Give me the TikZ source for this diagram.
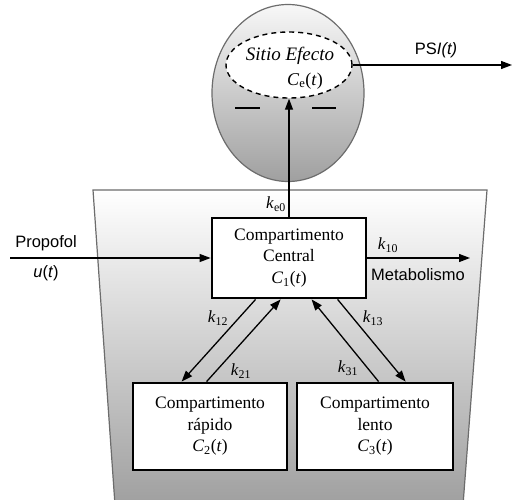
\documentclass[tikz,border=0pt]{standalone}
\usepackage{fontspec}
\setmainfont{Liberation Serif}
\setsansfont{Liberation Sans}
\usetikzlibrary{shapes.geometric,arrows.meta,calc}
\newcommand{\cvar}[1]{\textit{C}\textsubscript{#1}(\textit{t})}
\newcommand{\kvar}[1]{\textit{k}\textsubscript{#1}}
\begin{document}
\begin{tikzpicture}[x=1pt,y=-1pt,
  arr/.style={line width=1.3pt,-{Triangle[length=11pt,width=8pt]}},
  box/.style={draw,line width=2.8pt,fill=white,align=center,font=\fontsize{17.5}{21.5}\selectfont,inner sep=0pt},
  klab/.style={font=\fontsize{17}{19}\selectfont,inner sep=1pt},
  slab/.style={font=\sffamily\fontsize{16.5}{19}\selectfont,inner sep=1pt},
  outl/.style={draw=gray!85!black,line width=1.2pt}]
\useasboundingbox (0,0) rectangle (514,500);
% container trapezoid
\shade[top color=white,bottom color=gray!75] (93,190) -- (487,190) -- (463,505) -- (115,505) -- cycle;
\draw[outl] (115,505) -- (93,190) -- (487,190) -- (463,505);
% effect-site sphere
\node[ellipse,outl,top color=gray!6,bottom color=gray!75,minimum width=152pt,minimum height=177pt,inner sep=0pt] (sph) at (288,93) {};
\node[ellipse,draw,line width=1.4pt,dash pattern=on 5pt off 4pt,fill=white,minimum width=126pt,minimum height=66pt,inner sep=0pt] (ce) at (289,65) {};
\node[font=\itshape\fontsize{19}{21}\selectfont] (st) at (290,56) {Sitio Efecto};
\node[font=\fontsize{18}{21}\selectfont] (cet) at (305,81) {\cvar{e}};
\draw[line width=1.4pt] (235,108) -- (260,108);
\draw[line width=1.4pt] (312,108) -- (336,108);
% compartments
\node[box,minimum width=154pt,minimum height=80pt] (c1) at (289,258) {Compartimento\\Central\\\cvar{1}};
\node[box,minimum width=154pt,minimum height=87pt] (c2) at (210,426.5) {Compartimento\\rápido\\\cvar{2}};
\node[box,minimum width=156pt,minimum height=87pt] (c3) at (375,426.5) {Compartimento\\lento\\\cvar{3}};
% input
\coordinate (pin) at (10,258);
\draw[arr] (pin) -- (c1.west);
\node[slab] (prop) at (46,243) {Propofol};
\node[slab] (ut) at (46,273) {\textit{u}(\textit{t})};
% metabolism
\coordinate (met) at (470,258);
\draw[arr] (c1.east) -- (met);
\node[klab] (k10) at (388,245) {\kvar{10}};
\node[slab] (metl) at (418,275) {Metabolismo};
% to effect site
\draw[arr] (c1.north) -- (ce.south);
\node[klab] (ke0) at (276,204) {\kvar{e0}};
% output
\coordinate (psi) at (512,65);
\draw[arr] (ce.east) -- (psi);
\node[slab] (psil) at (436,50) {PS\textit{I(t)}};
% exchanges
\draw[arr] ([xshift=45pt]c1.south west) -- ([xshift=50pt]c2.north west);
\draw[arr] ([xshift=75pt]c2.north west) -- ([xshift=70pt]c1.south west);
\draw[arr] ([xshift=83pt]c3.north west) -- ([xshift=101pt]c1.south west);
\draw[arr] ([xshift=127pt]c1.south west) -- ([xshift=110pt]c3.north west);
\node[klab] (k12) at (218,318) {\kvar{12}};
\node[klab] (k21) at (241,371) {\kvar{21}};
\node[klab] (k13) at (373,318) {\kvar{13}};
\node[klab] (k31) at (348,368) {\kvar{31}};
\end{tikzpicture}
\end{document}
